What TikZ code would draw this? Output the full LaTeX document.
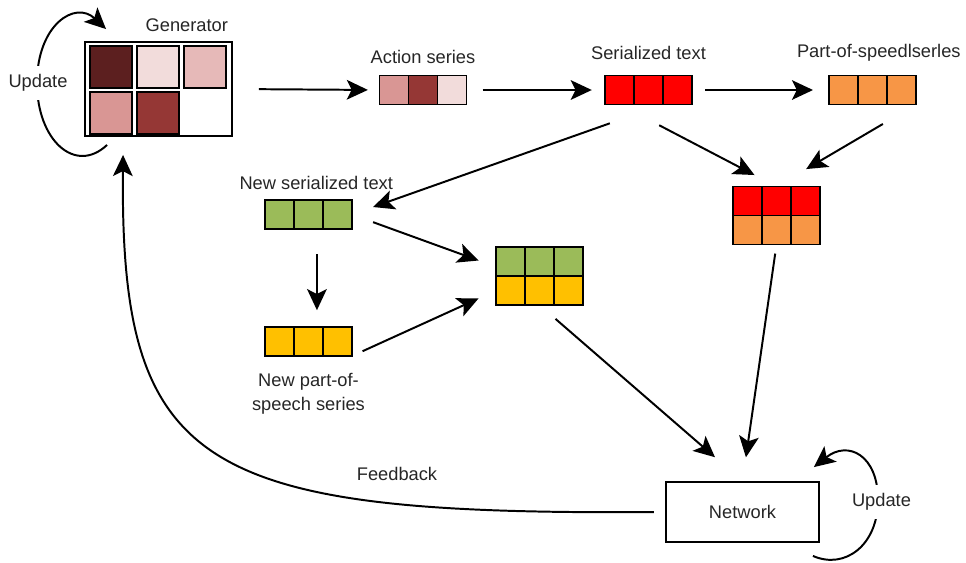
\documentclass[tikz,border=0pt]{standalone}
\usepackage{fontspec}
\setmainfont{Liberation Sans}
\usetikzlibrary{arrows.meta,positioning}

\definecolor{txt}{HTML}{262626}
\definecolor{gdark}{HTML}{5C1F1F}
\definecolor{gpale}{HTML}{F2DCDB}
\definecolor{gpink}{HTML}{E6B9B8}
\definecolor{grose}{HTML}{D99694}
\definecolor{gbrick}{HTML}{953735}
\definecolor{sred}{HTML}{FF0000}
\definecolor{sorange}{HTML}{F79646}
\definecolor{sgreen}{HTML}{9BBB59}
\definecolor{syellow}{HTML}{FFC000}

\begin{document}
\begin{tikzpicture}[x=0.025cm,y=-0.025cm,
    lbl/.style={font=\fontsize{13}{17}\selectfont,text=txt},
    cell/.style={draw,line width=1.3pt,minimum size=0.725cm,inner sep=0pt,outer sep=0pt},
    gcell/.style={cell,minimum size=1.05cm},
    arr/.style={-{Stealth[length=15pt,width=14pt,inset=3.5pt]},line width=1.4pt}]
  \useasboundingbox (0,0) rectangle (966,562);

  % generator
  \node[draw,line width=1.3pt,minimum width=3.675cm,minimum height=2.35cm,inner sep=0pt,
        label={[lbl,anchor=base east,yshift=7pt]north east:Generator}] (gen) at (158.5,89) {};
  \foreach \c [count=\i] in {gdark,gpale,gpink}
    \node[gcell,fill=\c] (g\i) at ({64+47*\i},67) {};
  \node[gcell,fill=grose] (g4) at (111,113) {};
  \node[gcell,fill=gbrick] (g5) at (158,113) {};

  % series
  \foreach \c [count=\i] in {grose,gbrick,gpale}
    \node[cell,fill=\c] (act\i) at ({365+29*\i},90) {};
  \foreach \i in {1,2,3} {
    \node[cell,fill=sred] (ser\i) at ({590.5+29*\i},90) {};
    \node[cell,fill=sorange] (pos\i) at ({814.5+29*\i},90) {};
    \node[cell,fill=sred] (rt\i) at ({718.5+29*\i},201) {};
    \node[cell,fill=sorange] (rb\i) at ({718.5+29*\i},230) {};
    \node[cell,fill=sgreen] (nsr\i) at ({250.5+29*\i},214.5) {};
    \node[cell,fill=syellow] (npos\i) at ({250.5+29*\i},341.5) {};
    \node[cell,fill=sgreen] (gt\i) at ({481.5+29*\i},261.5) {};
    \node[cell,fill=syellow] (gb\i) at ({481.5+29*\i},290.5) {};
  }
  \node[lbl,above=5pt of act2] (actlbl) {Action series};
  \node[lbl,above=8pt of ser2] (serlbl) {Serialized text};
  \node[lbl,above=6.5pt of pos2,xshift=4.5pt] (poslbl) {Part-of-speedlserles};
  \node[lbl,above=4pt of nsr2,xshift=5.5pt] (nsrlbl) {New serialized text};
  \node[lbl,below=8.5pt of npos2,align=center] (nposlbl) {New part-of-\\speech series};

  \node[draw,line width=1.3pt,minimum width=3.825cm,minimum height=1.5cm,lbl] (net) at (742.5,512) {Network};
  \node[lbl] (fb) at (397,474) {Feedback};

  % arrows
  \draw[arr,shorten <=0.65cm,shorten >=0.29cm] (gen.east) -- (act1.west);
  \draw[arr,shorten <=0.4cm,shorten >=0.33cm] (act3.east) -- (ser1.west);
  \draw[arr,shorten <=0.33cm,shorten >=0.4cm] (ser3.east) -- (pos1.west);
  \draw[arr,shorten <=1.12cm,shorten >=0.62cm] (ser1.south) -- (rt2.north);
  \draw[arr,shorten <=0.96cm,shorten >=0.86cm] (pos3.south east) -- (rt2.north);
  \draw[arr,shorten <=1.41cm,shorten >=0.56cm] (ser3.south west) -- (nsr3.east);
  \draw[arr,shorten <=0.56cm,shorten >=0.46cm] (nsr3.east) -- (gt1.200);
  \draw[arr,shorten <=0.29cm,shorten >=0.48cm] (npos3.south east) -- (gb1.west);
  \draw[arr,shorten <=0.63cm,shorten >=0.42cm] ([xshift=6pt]nsr2.south) -- ([xshift=6pt]npos2.north);
  \draw[arr,shorten <=0.53cm,shorten >=0.91cm] (gb2.south) -- (net.north);
  \draw[arr,shorten <=0.23cm,shorten >=0.6cm] (rb2.south) -- (net.north);
  \draw[arr,shorten <=0.28cm] (net.west) .. controls (200,515) and (120,470) .. ([shift={(39,18)}]gen.south west);

  % update loops
  \draw[arr] ([shift={(23,8)}]gen.south west) .. controls (75,175) and (37,140) .. (37,83)
    .. controls (37,25) and (75,0) .. ([shift={(22,-12)}]gen.north west);
  \node[lbl,fill=white,inner ysep=6pt] (updg) at (38,83) {Update};
  \draw[arr] ([shift={(-7,13)}]net.south east) .. controls (845,570) and (878,545) .. (878,500)
    .. controls (878,455) and (848,440) .. ([shift={(-6,-14)}]net.north east);
  \node[lbl,fill=white,inner ysep=6pt] (updn) at (881.5,502) {Update};
\end{tikzpicture}
\end{document}
